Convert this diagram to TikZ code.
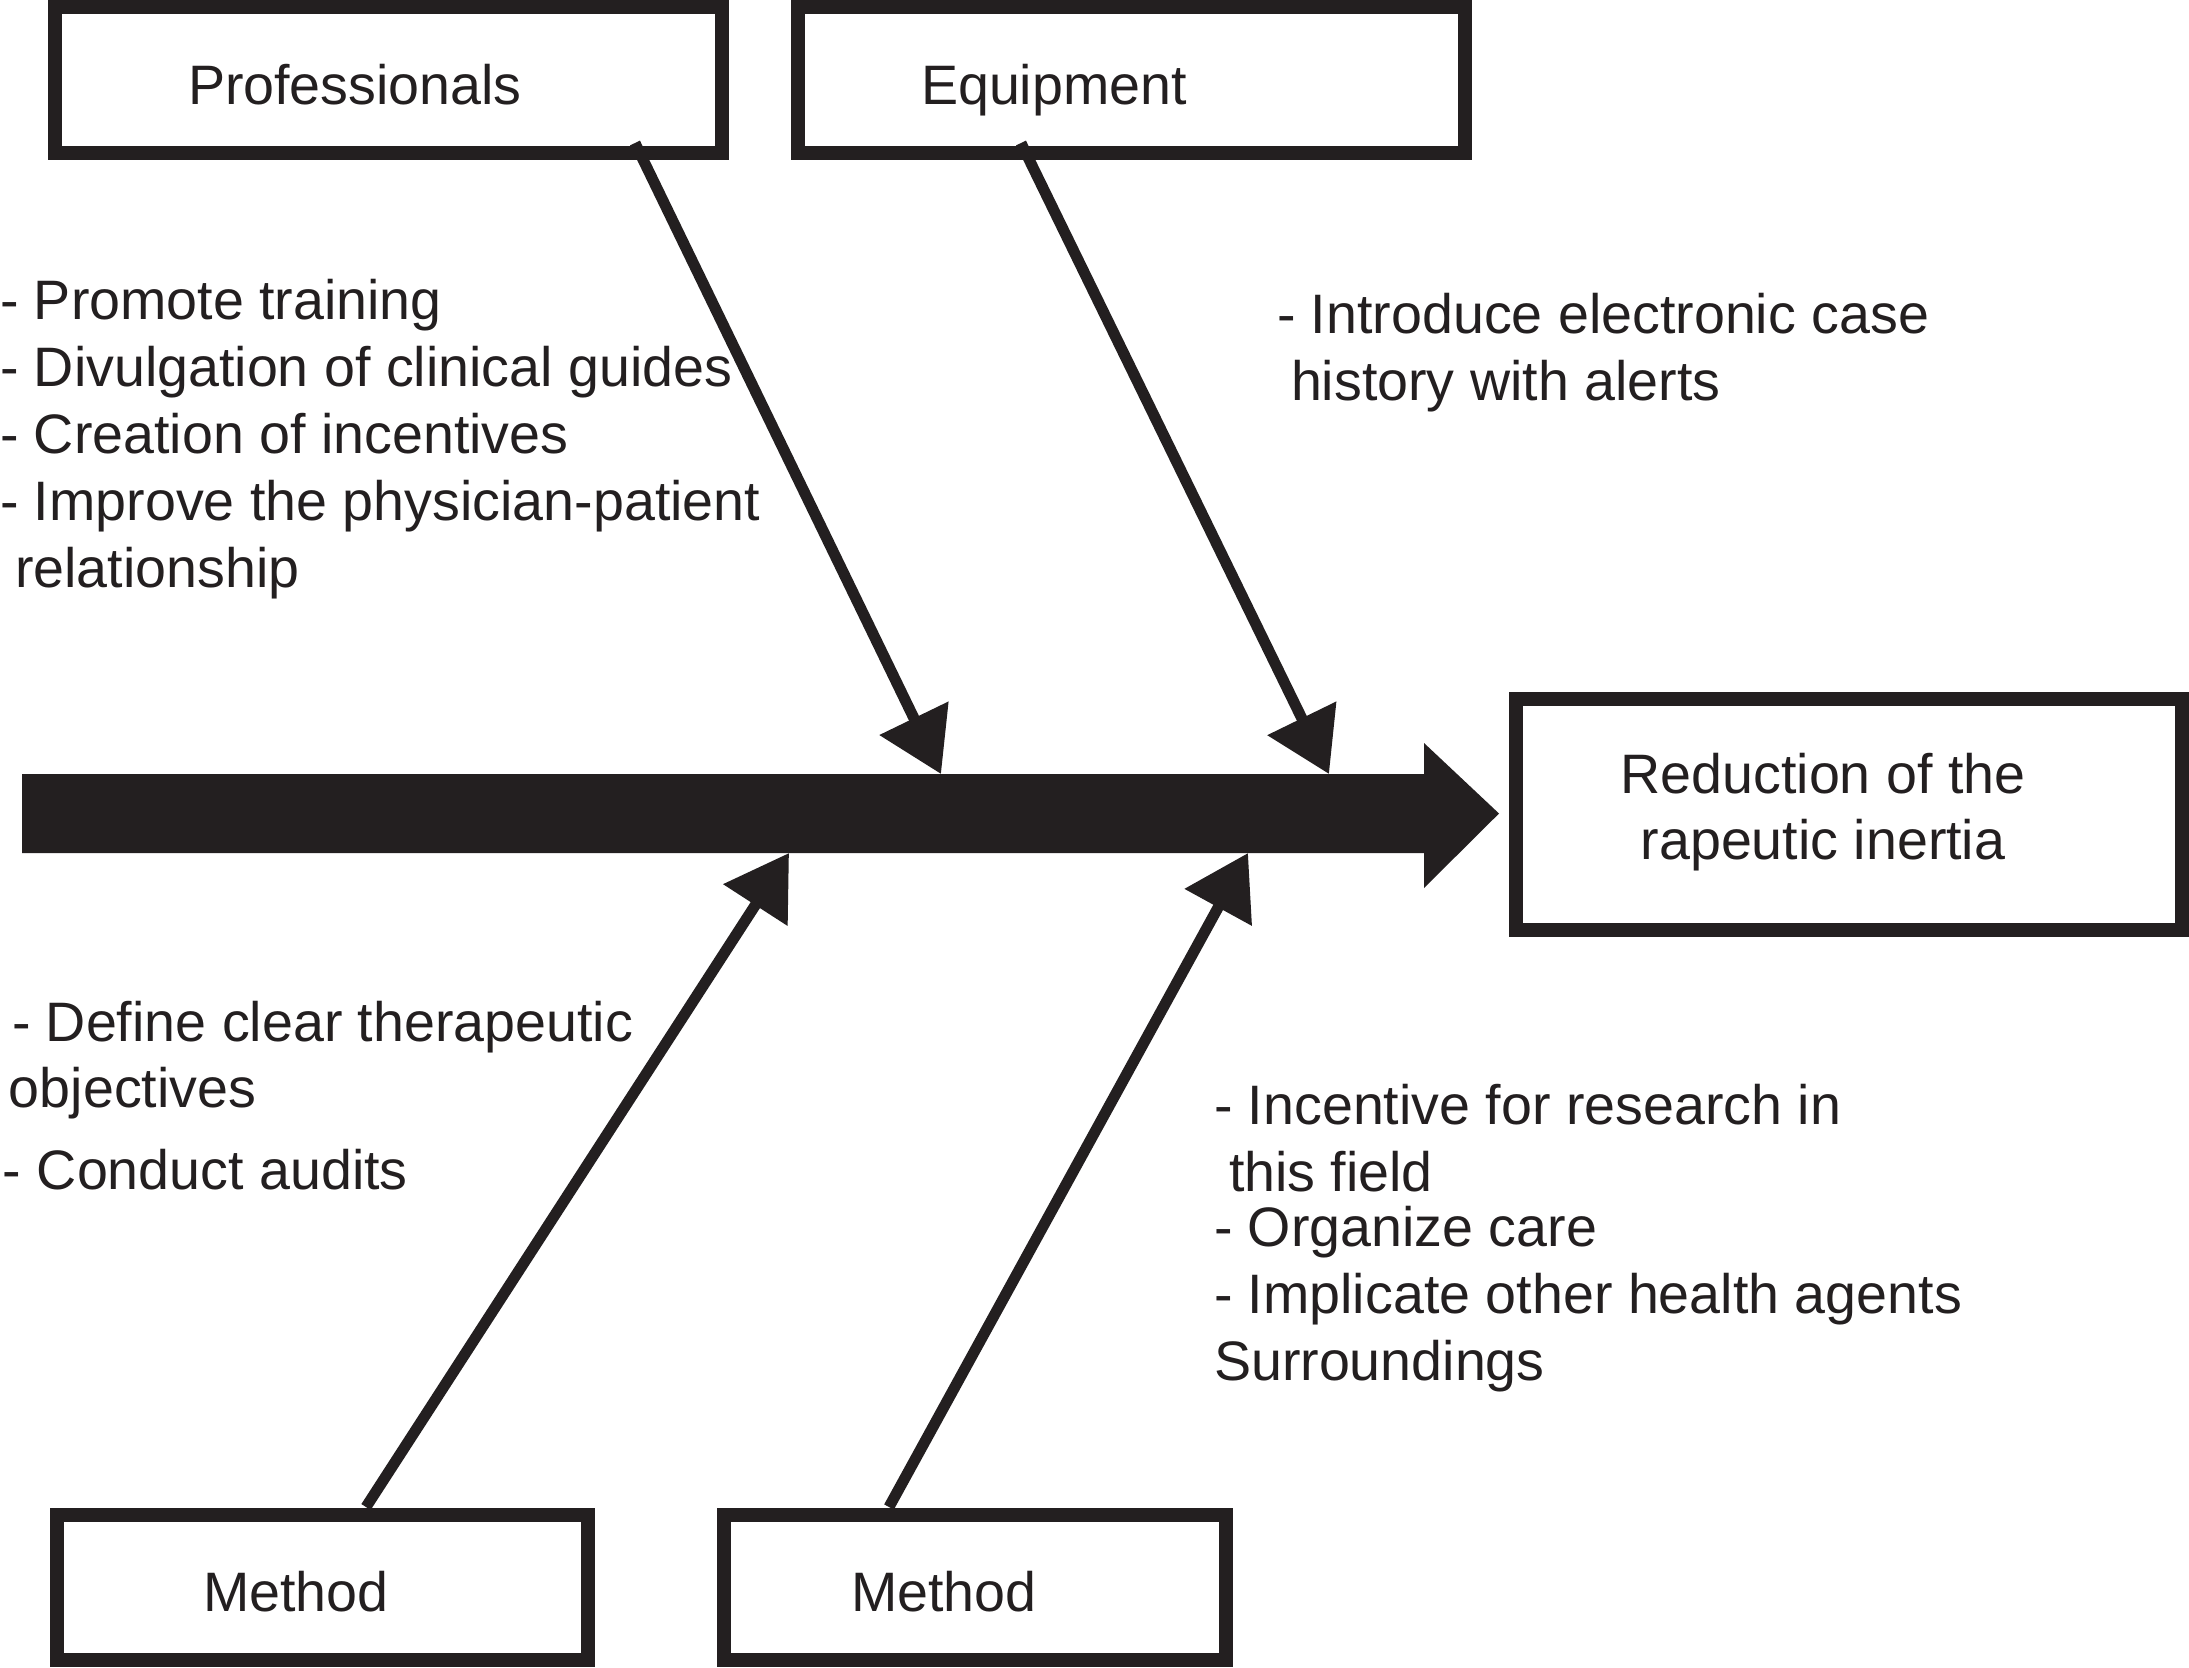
\documentclass[tikz,border=0pt]{standalone}
\usepackage{fontspec}
\setmainfont{Liberation Sans}
\usetikzlibrary{arrows.meta}
\definecolor{ink}{RGB}{35,31,32}
\begin{document}
\begin{tikzpicture}[x=0.5pt,y=-0.5pt,
  box/.style={draw=ink, line width=7pt, rectangle, inner sep=0pt, outer sep=0pt, fill=white},
  txt/.style={anchor=base west, inner sep=0pt, outer sep=0pt, font=\fontsize{27.8pt}{32pt}\selectfont, text=ink},
  ctxt/.style={txt, anchor=base},
  branch/.style={line width=5.5pt, draw=ink, -{Triangle[length=31pt,width=37pt]}},
  spine/.style={fill=ink}
]
\useasboundingbox (0,0) rectangle (2189,1667);
\fill[white] (0,0) rectangle (2189,1667);

% boxes
\node[box, minimum width=333.5pt, minimum height=73pt] (prof) at (388.5,79.5) {};
\node[box, minimum width=333.75pt, minimum height=73pt] (equip) at (1131.25,79.5) {};
\node[box, minimum width=333pt, minimum height=115.5pt] (red) at (1849,814.5) {};
\node[box, minimum width=265.75pt, minimum height=72.5pt] (meth1) at (322.25,1587.75) {};
\node[box, minimum width=251pt, minimum height=72.5pt] (meth2) at (975,1587.5) {};

% box labels
\node[txt] (profT) at (188,104) {Professionals};
\node[txt] (equipT) at (921,104) {Equipment};
\node[ctxt] (redT1) at (1823,793) {Reduction of the};
\node[ctxt] (redT2) at (1823,859) {rapeutic inertia};
\node[txt] (meth1T) at (203,1611) {Method};
\node[txt] (meth2T) at (851,1611) {Method};

% spine
\fill[spine] (22,774) -- (1424,774) -- (1424,743) -- (1499,813.5) -- (1424,888) -- (1424,853) -- (22,853) -- cycle;

% branch ends
\coordinate (s1) at (635,143);
\coordinate (s2) at (1021,143);
\coordinate (s3) at (366,1507);
\coordinate (s4) at (889,1507);
\coordinate (t1) at (941,774);
\coordinate (t2) at (1329,774);
\coordinate (t3) at (789,853);
\coordinate (t4) at (1248,853);

\draw[branch] (s1) -- (t1);
\draw[branch] (s2) -- (t2);
\draw[branch] (s3) -- (t3);
\draw[branch] (s4) -- (t4);

% texts
\node[txt] (a1) at (0,319) {- Promote training};
\node[txt] (a2) at (0,386) {- Divulgation of clinical guides};
\node[txt] (a3) at (0,453) {- Creation of incentives};
\node[txt] (a4) at (0,520) {- Improve the physician-patient};
\node[txt] (a5) at (15,587) {relationship};

\node[txt] (b1) at (1277,333) {- Introduce electronic case};
\node[txt] (b2) at (1291,400) {history with alerts};

\node[txt] (c1) at (12,1041) {- Define clear therapeutic};
\node[txt] (c2) at (9,1107) {objectives};
\node[txt] (c3) at (3,1189) {- Conduct audits};

\node[txt] (d1) at (1214,1124) {- Incentive for research in};
\node[txt] (d2) at (1229,1191) {this field};
\node[txt] (d3) at (1214,1246) {- Organize care};
\node[txt] (d4) at (1214,1313) {- Implicate other health agents};
\node[txt] (d5) at (1214,1380) {Surroundings};
\end{tikzpicture}
\end{document}
